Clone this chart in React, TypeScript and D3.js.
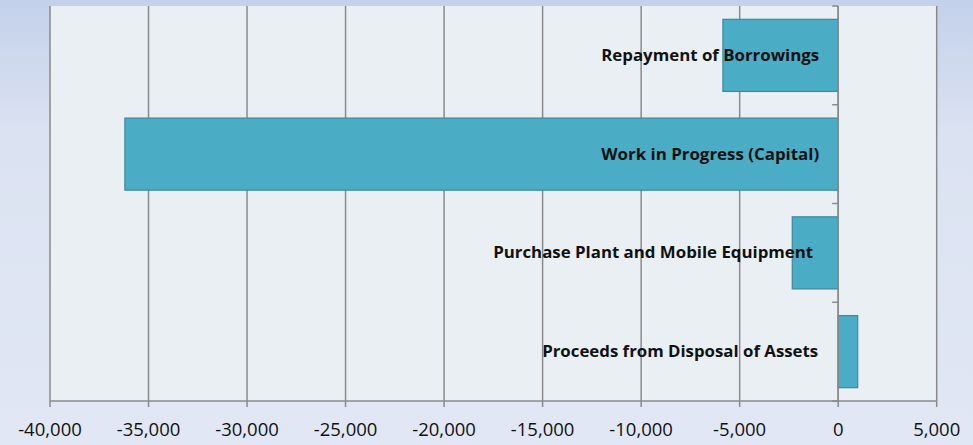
import React from "react";
import * as d3 from "d3";

const categories = [
  "Repayment of Borrowings",
  "Work in Progress (Capital)",
  "Purchase Plant and Mobile Equipment",
  "Proceeds from Disposal of Assets",
];
const values = [-5850, -36200, -2330, 990];
const xTicks = [-40000, -35000, -30000, -25000, -20000, -15000, -10000, -5000, 0, 5000];

// layout: rendered label widths and right offsets from the value axis
const labelLayout: Record<string, { w: number; off: number }> = {
  "Repayment of Borrowings": { w: 218, off: 19 },
  "Work in Progress (Capital)": { w: 218, off: 19 },
  "Purchase Plant and Mobile Equipment": { w: 320, off: 25 },
  "Proceeds from Disposal of Assets": { w: 276, off: 20 },
};

const W = 973;
const H = 445;
const plot = { left: 50, right: 936.7, top: 6, bottom: 401 };

export default function App() {
  const x = d3.scaleLinear().domain([-40000, 5000]).range([plot.left, plot.right]);
  const y = d3
    .scaleBand<string>()
    .domain(categories)
    .range([plot.top, plot.bottom])
    .paddingInner(0.27)
    .paddingOuter(0.135);
  const step = (plot.bottom - plot.top) / categories.length;
  const fmt = (v: number) => d3.format(",")(v).replace("\u2212", "-");
  const x0 = x(0);
  const font = "'Open Sans', Lato, sans-serif";

  return (
    <svg
      width={W}
      height={H}
      style={{ position: "absolute", left: 0, top: 0, display: "block" }}
    >
      <defs>
        <linearGradient id="bg" x1="0" y1="0" x2="0" y2="1">
          <stop offset="0%" stopColor="#c3d1eb" />
          <stop offset="30%" stopColor="#dbe2f1" />
          <stop offset="100%" stopColor="#e1e7f4" />
        </linearGradient>
      </defs>
      <rect x={0} y={0} width={W} height={H} fill="url(#bg)" />
      <rect
        x={plot.left}
        y={plot.top}
        width={plot.right - plot.left}
        height={plot.bottom - plot.top}
        fill="#e9eff3"
      />
      {xTicks.map((t) => (
        <g key={t}>
          <line
            x1={x(t)}
            x2={x(t)}
            y1={plot.top}
            y2={plot.bottom + 6}
            stroke="#8a8a8a"
            strokeWidth={1.5}
          />
          <text
            x={x(t)}
            y={436}
            textAnchor="middle"
            fontFamily={font}
            fontSize={18.5}
            fill="#111"
          >
            {fmt(t)}
          </text>
        </g>
      ))}
      <line
        x1={plot.left}
        x2={plot.right}
        y1={plot.bottom}
        y2={plot.bottom}
        stroke="#8a8a8a"
        strokeWidth={1.5}
      />
      {categories.map((c, i) => {
        const v = values[i];
        const bx = Math.min(x(v), x0);
        const bw = Math.abs(x(v) - x0);
        return (
          <rect
            key={c}
            x={bx}
            y={y(c)!}
            width={bw}
            height={y.bandwidth()}
            fill="#4bacc6"
            stroke="#3a8aa0"
            strokeWidth={1.2}
          />
        );
      })}
      <line x1={x0} x2={x0} y1={plot.top} y2={plot.bottom} stroke="#8a8a8a" strokeWidth={1.5} />
      {d3.range(categories.length + 1).map((i) => (
        <line
          key={i}
          x1={x0 - 6}
          x2={x0}
          y1={plot.top + i * step}
          y2={plot.top + i * step}
          stroke="#8a8a8a"
          strokeWidth={1.5}
        />
      ))}
      {categories.map((c) => (
        <text
          key={c}
          x={x0 - labelLayout[c].off}
          y={y(c)! + y.bandwidth() / 2 + 5.5}
          textAnchor="end"
          fontFamily={font}
          fontWeight="bold"
          fontSize={16.5}
          textLength={labelLayout[c].w}
          lengthAdjust="spacingAndGlyphs"
          fill="#111"
        >
          {c}
        </text>
      ))}
    </svg>
  );
}
